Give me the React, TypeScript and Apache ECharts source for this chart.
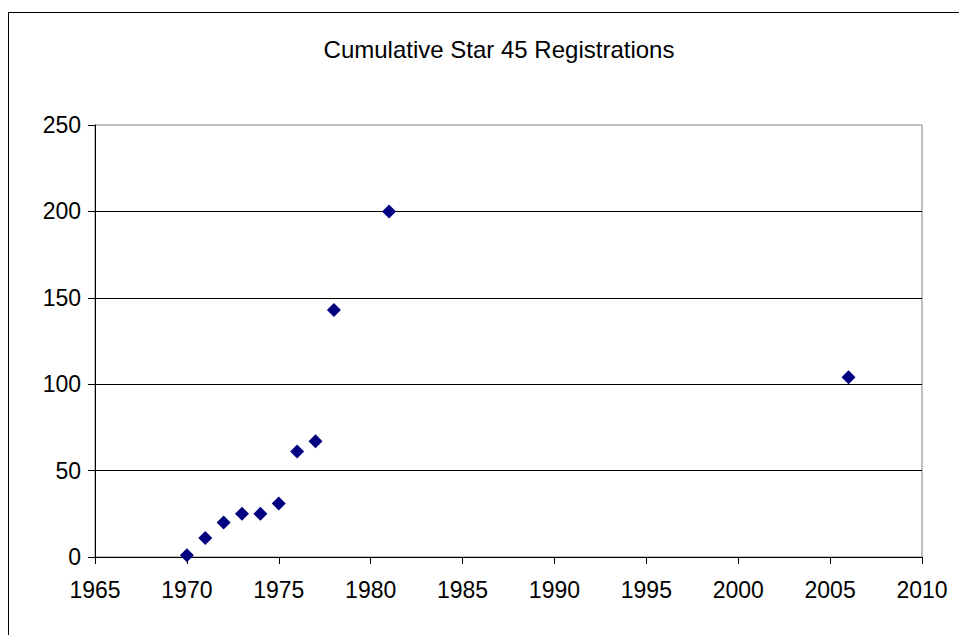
import React, { useEffect, useRef } from "react";
import * as echarts from "echarts";

const title = "Cumulative Star 45 Registrations";
const years = [1970, 1971, 1972, 1973, 1974, 1975, 1976, 1977, 1978, 1981, 2006];
const registrations = [1, 11, 20, 25, 25, 31, 61, 67, 143, 200, 104];
const xMin = 1965;
const xMax = 2010;
const xStep = 5;
const yMin = 0;
const yMax = 250;
const yStep = 50;

const FONT = "'Liberation Sans', Arial, sans-serif";

export default function App() {
  const ref = useRef<HTMLDivElement>(null);
  useEffect(() => {
    document.documentElement.style.overflow = "hidden";
    document.body.style.overflow = "hidden";
    const chart = echarts.init(ref.current!, undefined, { renderer: "svg" });
    chart.setOption({
      animation: false,
      backgroundColor: "#ffffff",
      title: {
        text: title,
        left: 485,
        top: 19,
        textAlign: "center",
        textStyle: { fontFamily: FONT, fontSize: 24, fontWeight: "normal", color: "#000" },
      },
      grid: {
        left: 86,
        top: 112,
        width: 827,
        height: 432,
        show: true,
        borderColor: "#808080",
        borderWidth: 1,
        backgroundColor: "#ffffff",
      },
      xAxis: {
        type: "value",
        min: xMin,
        max: xMax,
        interval: xStep,
        axisLine: { show: true, lineStyle: { color: "#000", width: 1 } },
        axisTick: { show: true, inside: false, length: 7, lineStyle: { color: "#000" } },
        axisLabel: {
          fontFamily: FONT,
          fontSize: 23,
          color: "#000",
          margin: 21,
          formatter: (v: number) => String(v),
        },
        splitLine: { show: false },
      },
      yAxis: {
        type: "value",
        min: yMin,
        max: yMax,
        interval: yStep,
        axisLine: { show: true, lineStyle: { color: "#000", width: 1 } },
        axisTick: { show: true, inside: false, length: 7, lineStyle: { color: "#000" } },
        axisLabel: {
          fontFamily: FONT,
          fontSize: 23,
          color: "#000",
          margin: 14,
          formatter: (v: number) => String(v),
        },
        splitLine: { show: true, showMaxLine: false, lineStyle: { color: "#000", width: 1 } },
      },
      series: [
        {
          type: "scatter",
          symbol: "diamond",
          symbolSize: 14,
          itemStyle: { color: "#000080", opacity: 1 },
          data: years.map((y, i) => [y, registrations[i]]),
        },
      ],
    });
    return () => chart.dispose();
  }, []);
  return (
    <div
      style={{
        position: "absolute",
        left: 8,
        top: 12,
        width: 1000,
        height: 700,
        border: "1px solid #000",
        boxSizing: "border-box",
        background: "#fff",
      }}
    >
      <div ref={ref} style={{ width: 998, height: 698 }} />
    </div>
  );
}
